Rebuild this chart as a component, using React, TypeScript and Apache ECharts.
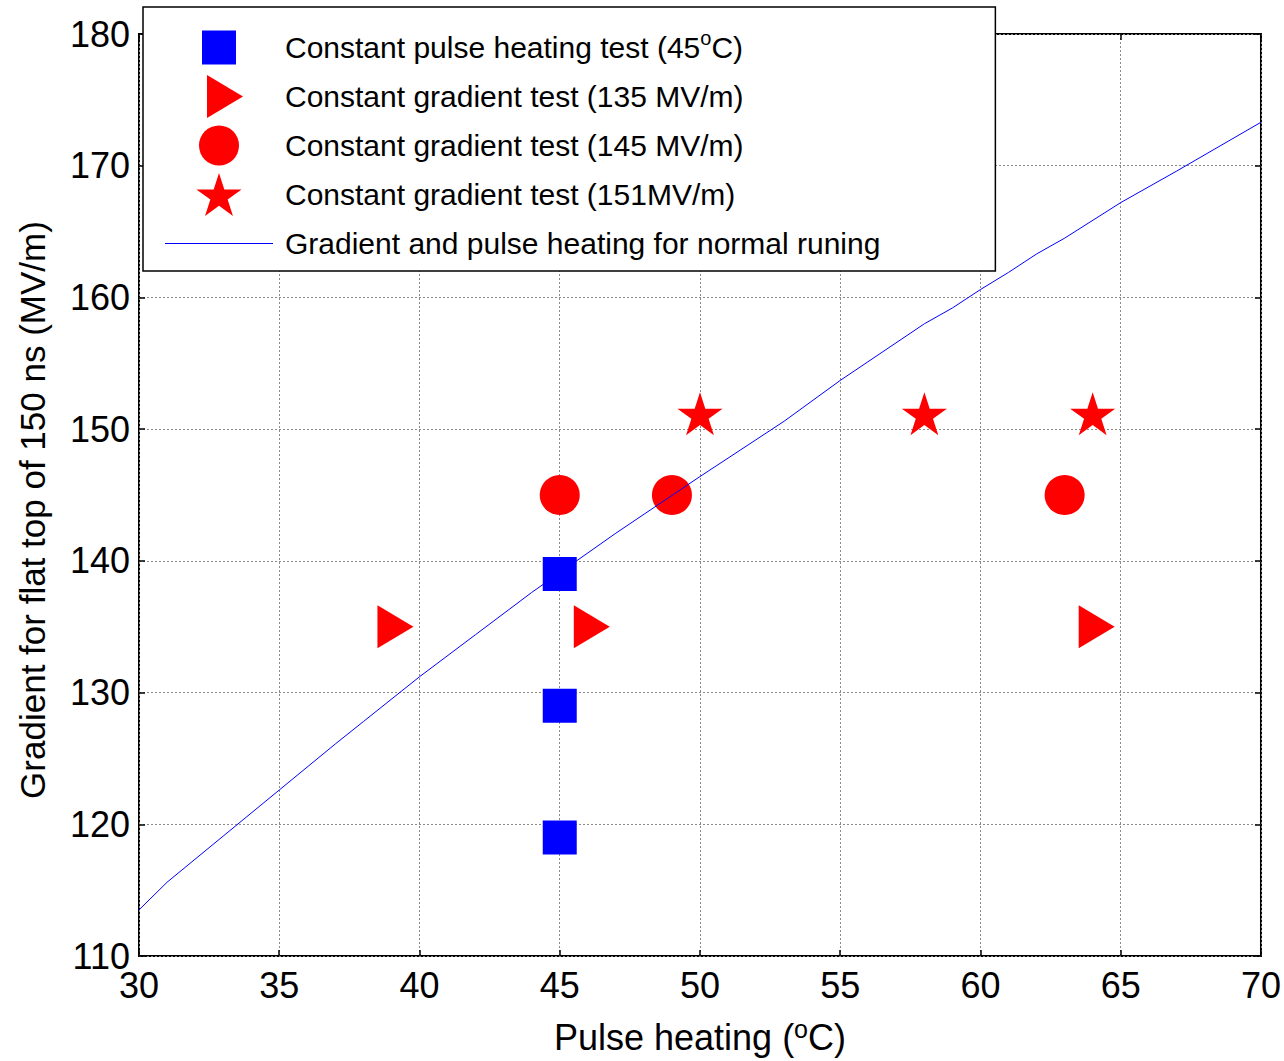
import React, { useEffect, useRef } from "react";
import * as echarts from "echarts";

// ---------- data ----------
const xTickValues = [30, 35, 40, 45, 50, 55, 60, 65, 70];
const yTickValues = [110, 120, 130, 140, 150, 160, 170, 180];

const seriesNames = [
  "Constant pulse heating test (45°C)",
  "Constant gradient test (135 MV/m)",
  "Constant gradient test (145 MV/m)",
  "Constant gradient test (151MV/m)",
  "Gradient and pulse heating for normal runing",
];

const squareX = [45, 45, 45];
const squareY = [139, 129, 119];

const triangleX = [39, 46, 64];
const triangleY = [135, 135, 135];

const circleX = [45, 49, 63];
const circleY = [145, 145, 145];

const starX = [50, 58, 64];
const starY = [151, 151, 151];

const lineX = [30, 31, 33, 35, 37, 38, 40, 42, 44, 45, 47, 50, 53, 55, 58, 59, 60, 61, 62, 63, 65, 67, 70];
const lineY = [113.5, 115.6, 119.1, 122.6, 126.1, 127.8, 131.2, 134.4, 137.6, 139.1, 142.1, 146.4, 150.6, 153.7, 158.0, 159.2, 160.6, 161.9, 163.3, 164.5, 167.2, 169.6, 173.3];

// ---------- styles ----------
const FONT = "'Liberation Sans', Arial, Helvetica, sans-serif";
const BLUE = "#0000ff";
const RED = "#ff0000";

const STAR_CORE =
  "M50 0L61.23 34.55L97.55 34.55L68.17 55.9L79.39 90.45L50 69.1L20.61 90.45L31.83 55.9L2.45 34.55L38.77 34.55Z";
const STAR_PADDED = "path://M0 0M100 100" + STAR_CORE;
const STAR_LEGEND = "path://" + STAR_CORE;
const TRI = "path://M0 0L36 21.5L0 43Z";
const TRI_LEGEND = "path://M-12 0M0 0L36 21.5L0 43Z";
const SQUARE_LEGEND = "path://M0 0M43 43M4.5 4.5L38.5 4.5L38.5 38.5L4.5 38.5Z";
const CIRCLE_LEGEND = "path://M0 0M43 43M1.5 21.5A20 20 0 1 0 41.5 21.5A20 20 0 1 0 1.5 21.5Z";
const LINE_LEGEND = "path://M0 0M108 43M0 21L108 21L108 22L0 22Z";

const zip = (xs: number[], ys: number[]) => xs.map((x, i) => [x, ys[i]]);

export default function App() {
  const ref = useRef<HTMLDivElement>(null);

  useEffect(() => {
    if (!ref.current) return;
    const chart = echarts.init(ref.current, null, { renderer: "svg" });

    const xMin = xTickValues[0];
    const xMax = xTickValues[xTickValues.length - 1];
    const xStep = xTickValues[1] - xTickValues[0];
    const yMin = yTickValues[0];
    const yMax = yTickValues[yTickValues.length - 1];
    const yStep = yTickValues[1] - yTickValues[0];

    const tick = { show: true, inside: true, length: 6, lineStyle: { color: "#000", width: 1.5 } };
    const split = { show: true, lineStyle: { color: "#8a8a8a", type: [2, 2] as any, width: 1 } };
    const label = { color: "#000", fontSize: 36, fontFamily: FONT };

    const option: any = {
      animation: false,
      backgroundColor: "#fff",
      grid: {
        left: 139,
        top: 34,
        right: 23,
        bottom: 105,
        show: true,
        borderColor: "#000",
        borderWidth: 2,
        backgroundColor: "transparent",
      },
      legend: {
        orient: "vertical",
        left: 143,
        top: 7,
        padding: [19, 115, 6, 22],
        itemGap: 6,
        itemWidth: 108,
        itemHeight: 43,
        selectedMode: false,
        backgroundColor: "#fff",
        borderColor: "#000",
        borderWidth: 1.5,
        z: 10,
        itemStyle: { opacity: 1 },
        textStyle: {
          color: "#000",
          fontSize: 30,
          fontFamily: FONT,
          lineHeight: 30,
          padding: [0, 0, 0, 7],
          rich: {
            sup: {
              fontSize: 20,
              lineHeight: 1,
              verticalAlign: "top",
              padding: [-5, 0, 0, 0],
              color: "#000",
              fontFamily: FONT,
            },
          },
        },
        formatter: (name: string) => name.replace("°", "{sup|o}"),
        data: [
          { name: seriesNames[0], icon: SQUARE_LEGEND },
          { name: seriesNames[1], icon: TRI_LEGEND },
          { name: seriesNames[2], icon: CIRCLE_LEGEND },
          { name: seriesNames[3], icon: STAR_LEGEND },
          { name: seriesNames[4], icon: LINE_LEGEND },
        ],
      },
      xAxis: [
        {
          type: "value",
          position: "bottom",
          min: xMin,
          max: xMax,
          interval: xStep,
          axisLine: { show: false },
          axisTick: tick,
          axisLabel: { ...label, margin: 11 },
          splitLine: split,
          name: "Pulse heating ({sup|o}C)",
          nameLocation: "middle",
          nameGap: 63,
          nameTextStyle: {
            color: "#000",
            fontSize: 36,
            fontFamily: FONT,
            lineHeight: 36,
            rich: {
              sup: {
                fontSize: 25,
                lineHeight: 14,
                verticalAlign: "top",
                padding: [-3, 0, 0, 0],
                color: "#000",
                fontFamily: FONT,
              },
            },
          },
        },
        {
          type: "value",
          position: "top",
          min: xMin,
          max: xMax,
          interval: xStep,
          axisLine: { show: false },
          axisTick: tick,
          axisLabel: { show: false },
          splitLine: { show: false },
        },
      ],
      yAxis: [
        {
          type: "value",
          position: "left",
          min: yMin,
          max: yMax,
          interval: yStep,
          axisLine: { show: false },
          axisTick: tick,
          axisLabel: { ...label, margin: 9 },
          splitLine: split,
          name: "Gradient for flat top of 150 ns (MV/m)",
          nameLocation: "middle",
          nameGap: 89,
          nameTextStyle: {
            color: "#000",
            fontSize: 35,
            fontFamily: FONT,
            lineHeight: 36,
            padding: [0, 30, 0, 0],
          },
        },
        {
          type: "value",
          position: "right",
          min: yMin,
          max: yMax,
          interval: yStep,
          axisLine: { show: false },
          axisTick: tick,
          axisLabel: { show: false },
          splitLine: { show: false },
        },
      ],
      series: [
        {
          type: "scatter",
          name: seriesNames[0],
          data: zip(squareX, squareY),
          symbol: "rect",
          symbolSize: 34,
          itemStyle: { color: BLUE, opacity: 1 },
          emphasis: { disabled: true },
          z: 5,
        },
        {
          type: "scatter",
          name: seriesNames[1],
          data: zip(triangleX, triangleY),
          symbol: TRI,
          symbolSize: [36, 43],
          symbolOffset: [4, 0],
          itemStyle: { color: RED, opacity: 1 },
          emphasis: { disabled: true },
          z: 5,
        },
        {
          type: "scatter",
          name: seriesNames[2],
          data: zip(circleX, circleY),
          symbol: "circle",
          symbolSize: 40,
          itemStyle: { color: RED, opacity: 1 },
          emphasis: { disabled: true },
          z: 2,
        },
        {
          type: "scatter",
          name: seriesNames[3],
          data: zip(starX, starY),
          symbol: STAR_PADDED,
          symbolSize: 47.4,
          itemStyle: { color: RED, opacity: 1 },
          emphasis: { disabled: true },
          z: 5,
        },
        {
          type: "line",
          name: seriesNames[4],
          data: zip(lineX, lineY),
          symbol: "none",
          showSymbol: false,
          lineStyle: { color: BLUE, width: 1 },
          itemStyle: { color: BLUE, opacity: 1 },
          emphasis: { disabled: true },
          z: 3,
        },
      ],
    };

    chart.setOption(option);
    return () => chart.dispose();
  }, []);

  return (
    <div
      ref={ref}
      style={{ position: "fixed", left: 0, top: 0, width: 1284, height: 1061, background: "#fff" }}
    />
  );
}
